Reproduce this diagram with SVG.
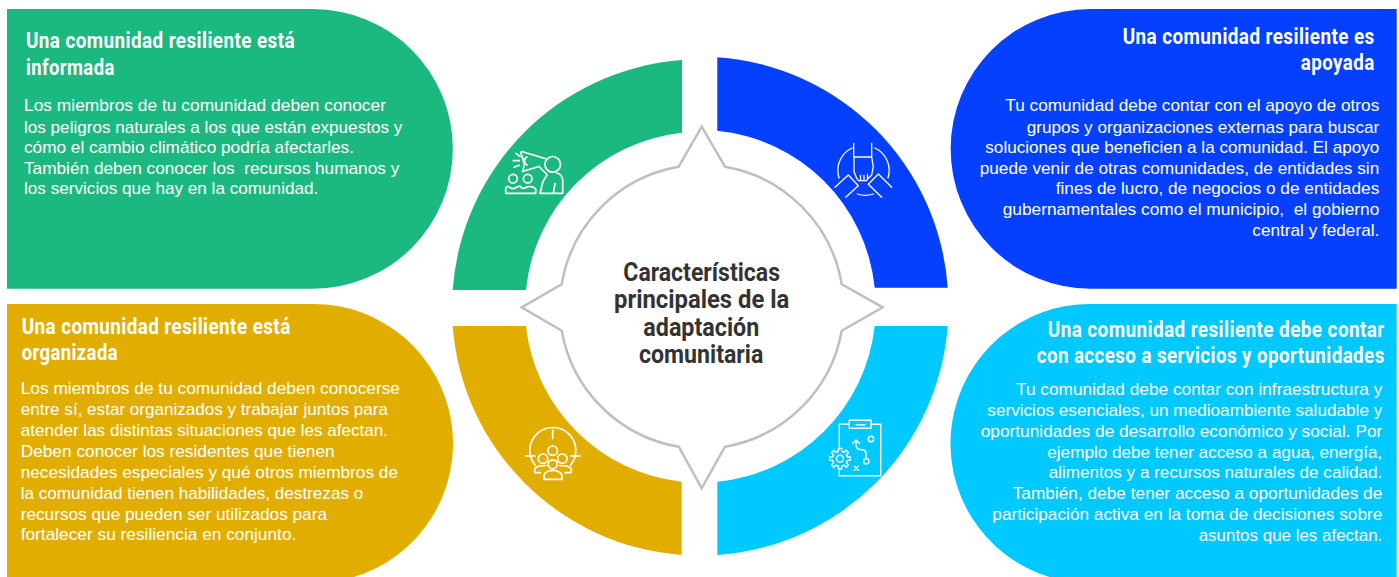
<svg xmlns="http://www.w3.org/2000/svg" xmlns:xlink="http://www.w3.org/1999/xlink" width="1399" height="577" viewBox="0 0 1399 577">
<style>
.b{font-family:"Liberation Sans",Arial,sans-serif;font-size:17px;fill:#fff}
.h{font-family:Roboto,"Liberation Sans",sans-serif;font-weight:700;font-size:22px;letter-spacing:.5px;fill:#fff}
.e{text-anchor:end}
.t{font-family:Roboto,"Liberation Sans",sans-serif;font-weight:700;font-size:26px;fill:#333}
.i{fill:none;stroke:#fff;stroke-width:1.7;stroke-linecap:round;stroke-linejoin:round}
</style>
<defs><path id="tooth" d="M-2.87-6.93L-1.69-7.31L-1.64-10.37H1.64L1.69-7.31L2.87-6.93"/></defs>
<rect width="1399" height="577" fill="#fff"/>
<g id="panel-informada">
<path fill="#1BB97F" d="M7 9H313A139.8 139.8 0 0 1 313 288.7H7Z"/>
<text class="h" x="26" y="48.3" textLength="269" lengthAdjust="spacingAndGlyphs">Una comunidad resiliente está</text>
<text class="h" x="26" y="74.7" textLength="88.7" lengthAdjust="spacingAndGlyphs">informada</text>
<text class="b" x="24" y="111.3" textLength="362" lengthAdjust="spacingAndGlyphs">Los miembros de tu comunidad deben conocer</text>
<text class="b" x="24" y="132.5" textLength="378.3" lengthAdjust="spacingAndGlyphs">los peligros naturales a los que están expuestos y</text>
<text class="b" x="24" y="153.3" textLength="330" lengthAdjust="spacingAndGlyphs">cómo el cambio climático podría afectarles.</text>
<text class="b" x="24" y="173.5" textLength="375.3" lengthAdjust="spacingAndGlyphs" xml:space="preserve">También deben conocer los  recursos humanos y</text>
<text class="b" x="24" y="194.3" textLength="294.3" lengthAdjust="spacingAndGlyphs">los servicios que hay en la comunidad.</text>
</g>
<g id="panel-apoyada">
<path fill="#0540FF" d="M1396.7 9H1090.5A139.8 139.8 0 0 0 1090.5 288.7H1396.7Z"/>
<text class="h e" transform="translate(1374.7 44) scale(.8 1)" textLength="315" lengthAdjust="spacingAndGlyphs">Una comunidad resiliente es</text>
<text class="h e" x="1374.7" y="70" textLength="74" lengthAdjust="spacingAndGlyphs">apoyada</text>
<text class="b" x="1005.3" y="111.3" textLength="374" lengthAdjust="spacingAndGlyphs">Tu comunidad debe contar con el apoyo de otros</text>
<text class="b" x="1026.7" y="132.5" textLength="352.6" lengthAdjust="spacingAndGlyphs">grupos y organizaciones externas para buscar</text>
<text class="b" x="985.3" y="153.3" textLength="394" lengthAdjust="spacingAndGlyphs">soluciones que beneficien a la comunidad. El apoyo</text>
<text class="b" x="979.7" y="173.5" textLength="399.6" lengthAdjust="spacingAndGlyphs">puede venir de otras comunidades, de entidades sin</text>
<text class="b" x="1055.7" y="194.3" textLength="323.6" lengthAdjust="spacingAndGlyphs">fines de lucro, de negocios o de entidades</text>
<text class="b" x="1002.7" y="215.3" textLength="376.6" lengthAdjust="spacingAndGlyphs" xml:space="preserve">gubernamentales como el municipio,  el gobierno</text>
<text class="b" x="1252.3" y="236" textLength="127" lengthAdjust="spacingAndGlyphs">central y federal.</text>
</g>
<g id="panel-organizada">
<path fill="#E1AE00" d="M7 304H313A139.5 139.5 0 0 1 354 577H7Z"/>
<text class="h" x="21.7" y="334.3" textLength="269" lengthAdjust="spacingAndGlyphs">Una comunidad resiliente está</text>
<text class="h" x="21.7" y="360" textLength="96.3" lengthAdjust="spacingAndGlyphs">organizada</text>
<text class="b" x="20.7" y="394.3" textLength="379.3" lengthAdjust="spacingAndGlyphs">Los miembros de tu comunidad deben conocerse</text>
<text class="b" x="20.7" y="415.3" textLength="367.3" lengthAdjust="spacingAndGlyphs">entre sí, estar organizados y trabajar juntos para</text>
<text class="b" x="20.7" y="436.3" textLength="367.3" lengthAdjust="spacingAndGlyphs">atender las distintas situaciones que les afectan.</text>
<text class="b" x="20.7" y="457.3" textLength="314" lengthAdjust="spacingAndGlyphs">Deben conocer los residentes que tienen</text>
<text class="b" x="20.7" y="478" textLength="377.3" lengthAdjust="spacingAndGlyphs">necesidades especiales y qué otros miembros de</text>
<text class="b" x="20.7" y="499" textLength="342.6" lengthAdjust="spacingAndGlyphs">la comunidad tienen habilidades, destrezas o</text>
<text class="b" x="20.7" y="519.7" textLength="306.3" lengthAdjust="spacingAndGlyphs">recursos que pueden ser utilizados para</text>
<text class="b" x="20.7" y="540.3" textLength="275.6" lengthAdjust="spacingAndGlyphs">fortalecer su resiliencia en conjunto.</text>
</g>
<g id="panel-servicios">
<path fill="#00C9FF" d="M1396.7 304H1090.5A139.5 139.5 0 0 0 1049.5 577H1396.7Z"/>
<text class="h e" transform="translate(1384.7 337) scale(.8 1)" textLength="421.2" lengthAdjust="spacingAndGlyphs">Una comunidad resiliente debe contar</text>
<text class="h e" transform="translate(1384.7 363) scale(.8 1)" textLength="435" lengthAdjust="spacingAndGlyphs">con acceso a servicios y oportunidades</text>
<text class="b" x="1016" y="395.3" textLength="366.3" lengthAdjust="spacingAndGlyphs">Tu comunidad debe contar con infraestructura y</text>
<text class="b" x="987.3" y="416.3" textLength="395" lengthAdjust="spacingAndGlyphs">servicios esenciales, un medioambiente saludable y</text>
<text class="b" x="980.7" y="437.3" textLength="401.6" lengthAdjust="spacingAndGlyphs">oportunidades de desarrollo económico y social. Por</text>
<text class="b" x="1047.3" y="458.3" textLength="335" lengthAdjust="spacingAndGlyphs">ejemplo debe tener acceso a agua, energía,</text>
<text class="b" x="1048.7" y="478" textLength="333.6" lengthAdjust="spacingAndGlyphs">alimentos y a recursos naturales de calidad.</text>
<text class="b" x="1012.7" y="499" textLength="369.6" lengthAdjust="spacingAndGlyphs">También, debe tener acceso a oportunidades de</text>
<text class="b" x="992.3" y="520.3" textLength="390" lengthAdjust="spacingAndGlyphs">participación activa en la toma de decisiones sobre</text>
<text class="b" x="1198.7" y="541" textLength="183.6" lengthAdjust="spacingAndGlyphs">asuntos que les afectan.</text>
</g>
<g id="arc-informada">
<path fill="#1BB97F" d="M682 60V132.7A175.5 175.5 0 0 0 526 290H452.7A248 248 0 0 1 682 60Z"/>
<g class="i">
<circle cx="552.7" cy="164.3" r="7.8"/>
<circle cx="513" cy="178.7" r="4.3"/><circle cx="527.7" cy="178.7" r="4.3"/>
<path d="M505.7 193.3V189C506 186 508 186 510 187.5C512 189 514 189 516 187.5L520 186C522 189 524 189 526 187.5C528 186 534 186 535.7 189V193.3Z"/>
<path d="M525 152.5L545 158.5M522.5 171.5L539 166.5M525 152.5C521 150.5 520 152 521.5 155C524 160 525 167 522.5 171.5"/>
<path d="M527 157C523.5 158 524 164 527 165M539 166.5L546.5 174"/>
<path d="M516 153.3L520 156.7M513.3 160.7H519.3M514 167.3L519.3 165.3"/>
<path d="M540 193.3L543 181.5L547 175M540 193.3H562.7V180C562 175 559 173.5 556.7 173M553.3 193.3L555 183.5"/>
</g>
</g>
<g id="arc-apoyada">
<path fill="#0540FF" d="M717.3 57.3V130.7A175.5 175.5 0 0 1 874.7 287.7H947.7A248 248 0 0 0 717.3 57.3Z"/>
<g class="i" style="stroke-width:1.3">
<path d="M853.7 143.3V157H871.7V143.3M854 157V171.7L856.7 178.3L858.5 180.7H866.5L868.3 178.3L871.7 175L873.3 166.7L871.7 157"/>
<path d="M860.5 175.5V180.7M864 175.5V180.7M867.5 174.5V179"/>
<path d="M852 148A25 25 0 0 0 839 178M875 148A25 25 0 0 1 888 178M857.3 194A25 25 0 0 0 873.3 194"/>
<path d="M835 187.3L848.3 175L858.3 185.7L845.7 197.3M891.7 187.3L878.3 174L868.3 184.3L881.7 197.3"/>
</g>
</g>
<g id="arc-organizada">
<path fill="#E1AE00" d="M452.7 326H526A175.5 175.5 0 0 0 681.7 481.7V555A248 248 0 0 1 452.7 326Z"/>
<g class="i">
<path d="M535 465A23 23 0 1 1 570.7 465M552.7 430V438.3M525.7 456H535M570.7 456H580"/>
<circle cx="552.7" cy="450.7" r="4.7"/><circle cx="543" cy="458.7" r="4.7"/><circle cx="562.3" cy="458.7" r="4.7"/><circle cx="552.7" cy="464.3" r="4.5"/>
<path d="M544 479.3V476C544 472 549 470.5 552.7 470.5C556.5 470.5 562 472 562 476V479.3Z"/>
<path d="M540.5 472.7H536C534 472.7 534 469 536 467.5C538 466 541 465.5 546 465.5M565 472.7H569.5C572 472.7 572 469 570 467.5C568 466 565 465.5 559.5 465.5"/>
</g>
</g>
<g id="arc-servicios">
<path fill="#00C9FF" d="M874.7 326H947.7A248 248 0 0 1 717.3 555V481.7A175.5 175.5 0 0 0 874.7 326Z"/>
<g class="i" style="stroke-width:1.4">
<path d="M849.3 424.3H839.3V449M839.3 471V475.7H880.7V424.3H871"/>
<rect x="849.3" y="420.3" width="21.7" height="8"/>
<path d="M856 424.7H865"/>
<circle cx="871" cy="439" r="2.7"/><circle cx="866.3" cy="461.3" r="2.7"/>
<path d="M866.3 458.5V455Q866.3 449.5 860.5 449.5Q856 449.5 856 444.5V440M852.5 443.5L856 440L859.5 443.5"/>
<path d="M854.3 466.3L858.3 470.3M858.3 466.3L854.3 470.3"/>
<circle cx="840" cy="458.7" r="3.5"/>
<g transform="translate(840 458.7)">
<use xlink:href="#tooth" href="#tooth"/>
<use xlink:href="#tooth" href="#tooth" transform="rotate(45)"/>
<use xlink:href="#tooth" href="#tooth" transform="rotate(90)"/>
<use xlink:href="#tooth" href="#tooth" transform="rotate(135)"/>
<use xlink:href="#tooth" href="#tooth" transform="rotate(180)"/>
<use xlink:href="#tooth" href="#tooth" transform="rotate(225)"/>
<use xlink:href="#tooth" href="#tooth" transform="rotate(270)"/>
<use xlink:href="#tooth" href="#tooth" transform="rotate(315)"/>
</g>
</g>
</g>
<g id="centro">
<path fill="#fff" stroke="#BFBFBF" stroke-width="2.5" d="M701.7 126.7L725 166.7A143 143 0 0 1 841.7 284.3L882.7 307.3L841.7 330.7A143 143 0 0 1 725 446.7L701.7 488.3L678.7 446.7A143 143 0 0 1 561.7 330.7L521.7 307.3L561.7 284.3A143 143 0 0 1 678.7 166.7Z"/>
<text class="t" x="623.3" y="280.5" textLength="156.7" lengthAdjust="spacingAndGlyphs">Características</text>
<text class="t" x="614" y="308" textLength="175.3" lengthAdjust="spacingAndGlyphs">principales de la</text>
<text class="t" x="643.3" y="335.7" textLength="116" lengthAdjust="spacingAndGlyphs">adaptación</text>
<text class="t" x="639" y="363.3" textLength="124.3" lengthAdjust="spacingAndGlyphs">comunitaria</text>
</g>
</svg>
